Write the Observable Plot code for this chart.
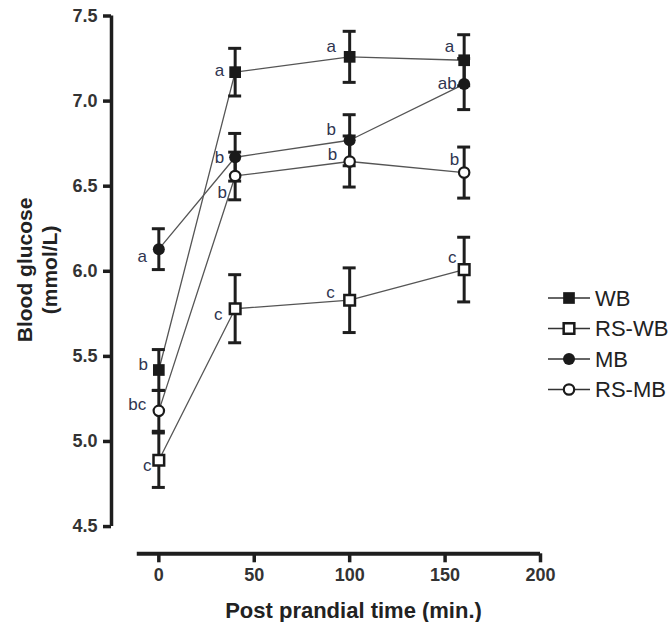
<!DOCTYPE html>
<html><head><meta charset="utf-8">
<script src="https://cdn.jsdelivr.net/npm/d3@7"></script>
<script src="https://cdn.jsdelivr.net/npm/@observablehq/plot@0.6"></script>
<style>
body{margin:0;background:#fff;}
#wrap{position:relative;width:671px;height:622px;font-family:"Liberation Sans",Arial,Helvetica,sans-serif;}
#legend{position:absolute;left:540px;top:280px;}
</style></head><body><div id="wrap"></div>
<script>
// ---- data ----
const times = [0, 40, 100, 160];
const seriesNames = ["WB", "RS-WB", "MB", "RS-MB"];
const wbMean = [5.42, 7.17, 7.26, 7.24];
const wbSem = [0.12, 0.14, 0.15, 0.15];
const rswbMean = [4.89, 5.78, 5.83, 6.01];
const rswbSem = [0.16, 0.20, 0.19, 0.19];
const mbMean = [6.13, 6.67, 6.77, 7.10];
const mbSem = [0.12, 0.14, 0.15, 0.15];
const rsmbMean = [5.18, 6.56, 6.645, 6.58];
const rsmbSem = [0.12, 0.14, 0.15, 0.15];
const wbLetters = ["b", "a", "a", "a"];
const rswbLetters = ["c", "c", "c", "c"];
const mbLetters = ["a", "b", "b", "ab"];
const rsmbLetters = ["bc", "b", "b", "b"];
const xTicks = [0, 50, 100, 150, 200];
const yTicks = [4.5, 5.0, 5.5, 6.0, 6.5, 7.0, 7.5];
const xTitle = "Post prandial time (min.)";
const yTitle = ["Blood glucose", "(mmol/L)"];

// ---- styling ----
const style = {
  "WB":    {symbol: "square", fill: "#1a1a1a", stroke: "none", r: 6.6, sw: 0},
  "RS-WB": {symbol: "square", fill: "#fff", stroke: "#1a1a1a", r: 6.0, sw: 2.5},
  "MB":    {symbol: "circle", fill: "#1a1a1a", stroke: "none", r: 6.0, sw: 0},
  "RS-MB": {symbol: "circle", fill: "#fff", stroke: "#1a1a1a", r: 5.2, sw: 2.2}
};
const letterOffsets = {
  "WB":    [[-15.6, -5], [-15.6, -1.7], [-18.5, -10.3], [-14.7, -13.3]],
  "RS-WB": [[-11.6, 5], [-16.9, 6], [-19.2, -7.3], [-12, -11.6]],
  "MB":    [[-16.6, 7.7], [-15.6, 0.6], [-18.5, -10.7], [-17, -1]],
  "RS-MB": [[-21.6, -6], [-12.9, 16.7], [-17.2, -6.7], [-9.7, -13]]
};

const means = {"WB": wbMean, "RS-WB": rswbMean, "MB": mbMean, "RS-MB": rsmbMean};
const sems = {"WB": wbSem, "RS-WB": rswbSem, "MB": mbSem, "RS-MB": rsmbSem};
const letters = {"WB": wbLetters, "RS-WB": rswbLetters, "MB": mbLetters, "RS-MB": rsmbLetters};

const rows = [];
for (const s of seriesNames) {
  times.forEach((t, i) => rows.push({series: s, t, v: means[s][i], e: sems[s][i], letter: letters[s][i], i}));
}

const xDomain = [-24.8, 200];
const yDomain = [4.34, 7.5];
const xAxisStart = -11.3;
const capHalf = 3.4;
const ink = "#1e1e1e";
const textCol = "#333";
const letterCol = "#2f3550";

const marks = [
  // axis lines
  Plot.ruleX([xDomain[0]], {y1: yTicks[0], y2: yTicks[yTicks.length - 1], stroke: ink, strokeWidth: 3.5}),
  Plot.ruleY([yDomain[0]], {x1: xAxisStart, x2: xTicks[xTicks.length - 1], stroke: ink, strokeWidth: 4}),
  Plot.axisY({ticks: yTicks, tickSize: 8, tickPadding: 6, stroke: ink, strokeWidth: 3.5, tickFormat: d3.format(".1f"),
    fontSize: 18, fontWeight: "bold", fill: textCol, label: null}),
  Plot.axisX({ticks: xTicks, tickSize: 9, tickPadding: 5, stroke: ink, strokeWidth: 3.5, tickFormat: d3.format("d"),
    fontSize: 18, fontWeight: "bold", fill: textCol, label: null}),
  // titles
  Plot.text([xTitle], {frameAnchor: "bottom", textAnchor: "middle", lineAnchor: "middle", dx: 27.5, dy: 57,
    fontSize: 22, fontWeight: "bold", fill: "#222"}),
  Plot.text([yTitle[0]], {frameAnchor: "left", textAnchor: "middle", lineAnchor: "middle", rotate: -90, dx: -86, dy: -15,
    fontSize: 21, fontWeight: "bold", fill: "#222"}),
  Plot.text([yTitle[1]], {frameAnchor: "left", textAnchor: "middle", lineAnchor: "middle", rotate: -90, dx: -61, dy: -15,
    fontSize: 21, fontWeight: "bold", fill: "#222"}),
  // connecting lines
  Plot.line(rows, {x: "t", y: "v", z: "series", stroke: "#555", strokeWidth: 1.3}),
  // error bars
  Plot.ruleX(rows, {x: "t", y1: d => d.v - d.e, y2: d => d.v + d.e, stroke: ink, strokeWidth: 3}),
  Plot.ruleY(rows, {y: d => d.v + d.e, x1: d => d.t - capHalf, x2: d => d.t + capHalf, stroke: ink, strokeWidth: 3}),
  Plot.ruleY(rows, {y: d => d.v - d.e, x1: d => d.t - capHalf, x2: d => d.t + capHalf, stroke: ink, strokeWidth: 3})
];
// symbols
for (const s of seriesNames) {
  const st = style[s];
  marks.push(Plot.dot(rows.filter(d => d.series === s), {x: "t", y: "v", symbol: st.symbol, r: st.r,
    fill: st.fill, stroke: st.stroke, strokeWidth: st.sw}));
}
// letters
for (const s of seriesNames) {
  rows.filter(d => d.series === s).forEach(d => {
    const [dx, dy] = letterOffsets[s][d.i];
    marks.push(Plot.text([d], {x: "t", y: "v", text: "letter", dx, dy, fontSize: 17, fill: letterCol}));
  });
}

const chart = Plot.plot({
  width: 671, height: 622,
  marginLeft: 111, marginRight: 131, marginTop: 15.5, marginBottom: 68.7,
  x: {domain: xDomain, axis: null},
  y: {domain: yDomain, axis: null},
  style: {fontFamily: "'Liberation Sans', Arial, Helvetica, sans-serif", background: "#fff", overflow: "visible"},
  marks
});
const wrap = document.getElementById("wrap");
wrap.appendChild(chart);

// legend
const leg = d3.select(wrap).append("svg").attr("id", "legend").attr("width", 131).attr("height", 125);
seriesNames.forEach((s, i) => {
  const st = style[s];
  const g = leg.append("g").attr("transform", `translate(0, ${18 + i * 30.5})`);
  g.append("line").attr("x1", 8).attr("x2", 50).attr("stroke", "#333").attr("stroke-width", 1.5);
  const sym = st.symbol === "square" ? d3.symbolSquare : d3.symbolCircle;
  g.append("path").attr("d", d3.symbol(sym, Math.PI * st.r * st.r)()).attr("transform", "translate(29,0)")
    .attr("fill", st.fill).attr("stroke", st.stroke === "none" ? null : st.stroke).attr("stroke-width", st.sw);
  g.append("text").attr("x", 55).attr("dy", "0.35em").attr("font-size", 22).attr("fill", "#222")
    .attr("font-family", "'Liberation Sans', Arial, sans-serif").text(s);
});
</script></body></html>
